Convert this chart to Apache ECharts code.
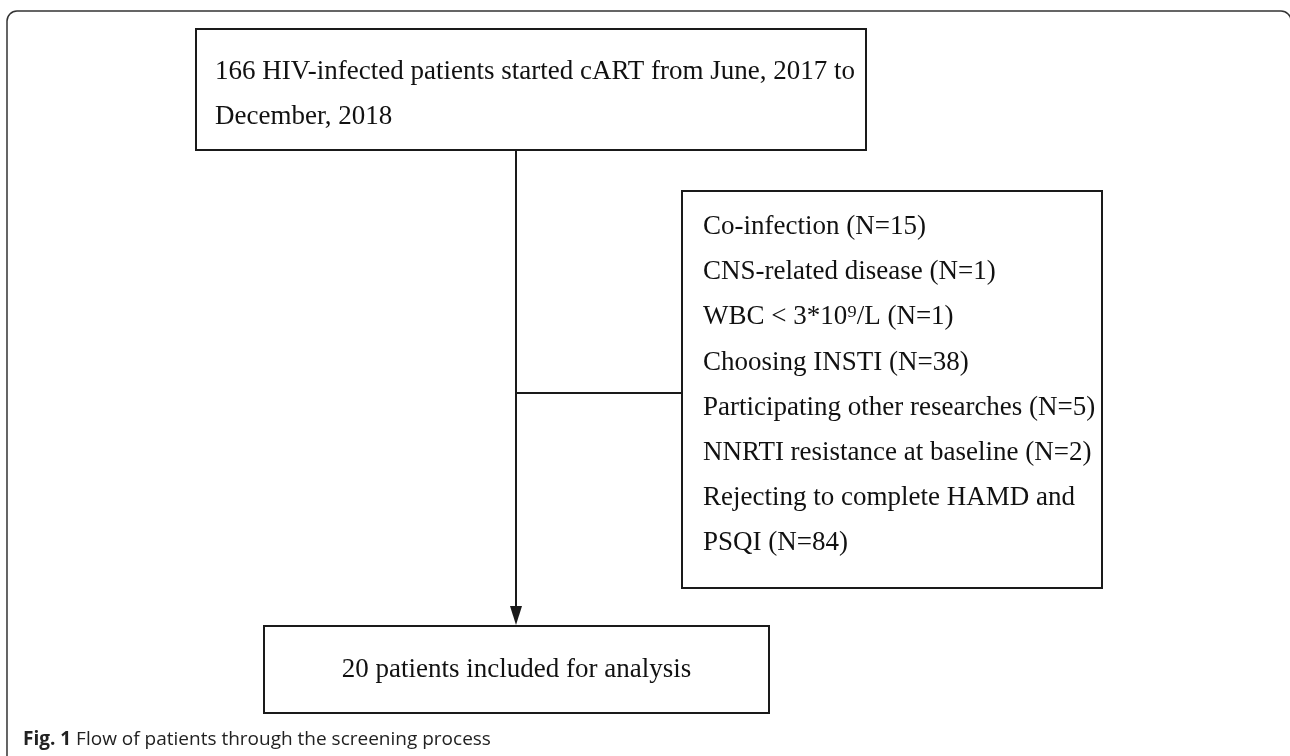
<!DOCTYPE html>
<html><head><meta charset="utf-8">
<script src="https://cdn.jsdelivr.net/npm/echarts@6/dist/echarts.min.js"></script>
<style>html,body{margin:0;padding:0;background:#fff}#c{width:1290px;height:756px}</style>
</head><body><div id="c"></div>
<script>
const topLines = ['166 HIV-infected patients started cART from June, 2017 to', 'December, 2018'];
const exclusionLines = ['Co-infection (N=15)', 'CNS-related disease (N=1)', 'WBC < 3*10\u2079/L (N=1)', 'Choosing INSTI (N=38)', 'Participating other researches (N=5)', 'NNRTI resistance at baseline (N=2)', 'Rejecting to complete HAMD and', 'PSQI (N=84)'];
const bottomLine = ['20 patients included for analysis'];
const captionBold = 'Fig. 1';
const captionText = ' Flow of patients through the screening process';

const serif = '"Liberation Serif", "Times New Roman", serif';
const lineC = '#1a1a1a';
const g = [];
// outer frame
g.push({type:'rect', shape:{x:7, y:11, width:1284, height:800, r:10}, style:{fill:'none', stroke:'#333', lineWidth:1.5}});
// top box
const topBox = {x:196, y:29, w:670, h:121};
g.push({type:'rect', shape:{x:topBox.x, y:topBox.y, width:topBox.w, height:topBox.h}, style:{fill:'#fff', stroke:lineC, lineWidth:2}});
topLines.forEach((t,i)=>g.push({type:'text', x:215, y:72+i*45, style:{text:t, font:'27px '+serif, fill:'#111', textVerticalAlign:'middle'}}));
// right box
const rBox = {x:682, y:191, w:420, h:397};
g.push({type:'rect', shape:{x:rBox.x, y:rBox.y, width:rBox.w, height:rBox.h}, style:{fill:'#fff', stroke:lineC, lineWidth:2}});
exclusionLines.forEach((t,i)=>g.push({type:'text', x:703, y:227+i*45.2, style:{text:t, font:'27px '+serif, fill:'#111', textVerticalAlign:'middle'}}));
// bottom box
const bBox = {x:264, y:626, w:505, h:87};
g.push({type:'rect', shape:{x:bBox.x, y:bBox.y, width:bBox.w, height:bBox.h}, style:{fill:'#fff', stroke:lineC, lineWidth:2}});
g.push({type:'text', x:bBox.x+bBox.w/2, y:670, style:{text:bottomLine[0], font:'27px '+serif, fill:'#111', textAlign:'center', textVerticalAlign:'middle'}});
// connectors
const vx = 516;
g.push({type:'line', shape:{x1:vx, y1:topBox.y+topBox.h, x2:vx, y2:608}, style:{stroke:lineC, lineWidth:2}});
g.push({type:'line', shape:{x1:vx, y1:393, x2:rBox.x, y2:393}, style:{stroke:lineC, lineWidth:2}});
g.push({type:'polygon', shape:{points:[[vx-6,606],[vx+6,606],[vx,625]]}, style:{fill:lineC}});
// caption
g.push({type:'text', x:23, y:740, style:{rich:{b:{fontFamily:'"Open Sans", sans-serif', fontWeight:'bold', fontSize:19, fill:'#222'}, n:{fontFamily:'"Open Sans", sans-serif', fontSize:19, fill:'#222'}}, text:'{b|'+captionBold+'}{n|'+captionText+'}', textVerticalAlign:'middle'}});

const chart = echarts.init(document.getElementById('c'));
chart.setOption({animation:false, graphic:g});
</script></body></html>
